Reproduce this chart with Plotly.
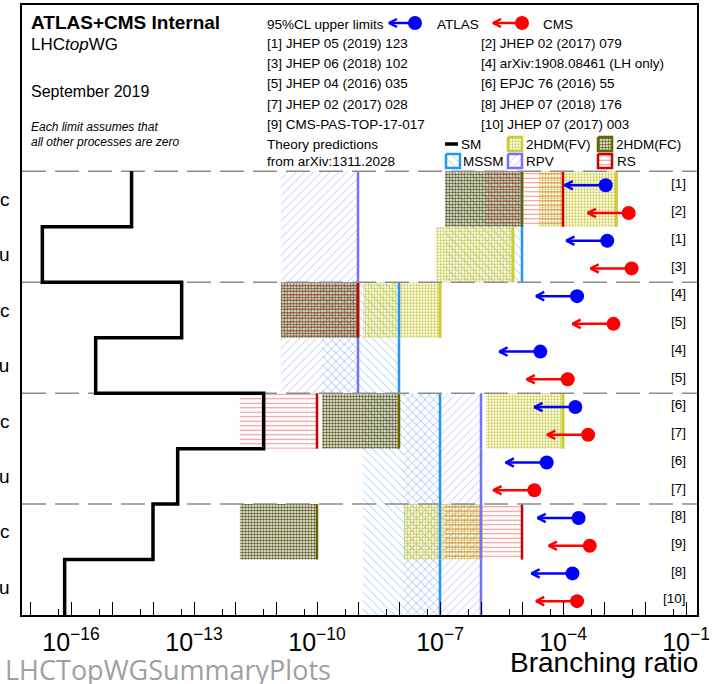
import plotly.graph_objects as go

# ---------------------------------------------------------------- data
# rows from bottom to top (each process occupies one unit on the y axis)
processes = ["t→Zu", "t→Zc", "t→gu", "t→gc", "t→γu", "t→γc", "t→Hu", "t→Hc"]

# theory predictions (arXiv:1311.2028); None = no prediction
sm_pred = [7e-17, 1e-14, 4e-14, 5e-12, 4e-16, 5e-14, 2e-17, 3e-15]
fv_pred = [None, 1e-6, None, 1e-4, None, 1e-7, 6e-6, 2e-3]
fc_pred = [None, 1e-10, None, 1e-8, None, 1e-9, None, 1e-5]
mssm_pred = [1e-7, 1e-7, 1e-7, 1e-7, 1e-8, 1e-8, 1e-5, 1e-5]
rpv_pred = [1e-6, 1e-6, 1e-6, 1e-6, 1e-9, 1e-9, 1e-9, 1e-9]
rs_pred = [None, 1e-5, None, 1e-10, None, 1e-9, None, 1e-4]

# 95% CL observed upper limits
atlas_limits = [1.7e-4, 2.4e-4, 4.0e-5, 2.0e-4, 2.8e-5, 2.2e-4, 1.2e-3, 1.1e-3]
atlas_refs = ["[8]", "[8]", "[6]", "[6]", "[4]", "[4]", "[1]", "[1]"]
cms_limits = [2.2e-4, 4.5e-4, 2.0e-5, 4.1e-4, 1.3e-4, 1.7e-3, 4.7e-3, 4.0e-3]
cms_refs = ["[10]", "[9]", "[7]", "[7]", "[5]", "[5]", "[3]", "[2]"]

references = [
    "[1] JHEP 05 (2019) 123", "[2] JHEP 02 (2017) 079",
    "[3] JHEP 06 (2018) 102", "[4] arXiv:1908.08461 (LH only)",
    "[5] JHEP 04 (2016) 035", "[6] EPJC 76 (2016) 55",
    "[7] JHEP 02 (2017) 028", "[8] JHEP 07 (2018) 176",
    "[9] CMS-PAS-TOP-17-017", "[10] JHEP 07 (2017) 003",
]

decades = list(range(-17, 0))
labelled_decades = [-16, -13, -10, -7, -4, -1]

# ---------------------------------------------------------------- layout constants
W, H = 716, 684
L, R, T, B = 22, 697, 5, 615          # frame in pixels
X_LOG_RANGE = [-17.195, -0.732]
Y_RANGE = [0, 11]
BOX_DECADES = 1.88                    # width of a theory band (log10 units)
ARROW_DECADES = 1.0                   # limit arrows span one decade
FONT = "Liberation Sans"

ATLAS_COL = "#0000ff"
CMS_COL = "#ff0000"

styles = {
    "2HDM(FV)": dict(shape=".", size=3, solidity=0.45, fg="rgba(200,200,50,0.9)",
                     edge="#cccc33", ew=3),
    "2HDM(FC)": dict(shape=".", size=3, solidity=0.55, fg="rgba(80,80,15,0.9)",
                     edge="#666600", ew=2.5),
    "MSSM": dict(shape="\\", size=6, solidity=0.13, fg="rgba(80,170,255,0.75)",
                 edge="#2196f3", ew=2.5),
    "RPV": dict(shape="/", size=6, solidity=0.13, fg="rgba(130,130,255,0.6)",
                edge="#7272ff", ew=2.5),
    "RS": dict(shape="-", size=4.5, solidity=0.25, fg="rgba(225,60,60,0.55)",
               edge="#cc0000", ew=2.5),
}
model_values = {
    "2HDM(FV)": fv_pred, "2HDM(FC)": fc_pred, "MSSM": mssm_pred,
    "RPV": rpv_pred, "RS": rs_pred,
}

fig = go.Figure()


def pattern(st):
    return dict(shape=st["shape"], size=st["size"], solidity=st["solidity"],
                fgcolor=st["fg"], bgcolor="rgba(0,0,0,0)", fillmode="replace")


# ---------------------------------------------------------------- theory bands
for name in ["MSSM", "RPV", "2HDM(FC)", "2HDM(FV)", "RS"]:
    st = styles[name]
    for i, v in enumerate(model_values[name]):
        if v is None:
            continue
        lo = v / 10 ** BOX_DECADES
        fig.add_trace(go.Scatter(
            x=[lo, v, v, lo, lo], y=[i, i, i + 1, i + 1, i],
            mode="lines", line=dict(width=0), fill="toself",
            fillcolor="rgba(0,0,0,0)", fillpattern=pattern(st),
            hoverinfo="skip", showlegend=False))

# upper edge of each band
for name in ["2HDM(FV)", "MSSM", "2HDM(FC)", "RPV", "RS"]:
    st = styles[name]
    for i, v in enumerate(model_values[name]):
        if v is None:
            continue
        fig.add_trace(go.Scatter(
            x=[v, v], y=[i, i + 1], mode="lines",
            line=dict(color=st["edge"], width=st["ew"]),
            hoverinfo="skip", showlegend=False))

# separators between the decay modes
for yy in [2, 4, 6, 8]:
    fig.add_trace(go.Scatter(
        x=[10 ** X_LOG_RANGE[0], 10 ** X_LOG_RANGE[1]], y=[yy, yy], mode="lines",
        line=dict(color="#8c8c8c", width=1.5, dash="24px,9px"),
        hoverinfo="skip", showlegend=False))

# SM prediction as a step line
sm_x, sm_y = [], []
for i in range(len(processes) - 1, -1, -1):
    sm_x += [sm_pred[i], sm_pred[i]]
    sm_y += [i + 1, i]
fig.add_trace(go.Scatter(x=sm_x, y=sm_y, mode="lines",
                         line=dict(color="black", width=3.5),
                         hoverinfo="skip", showlegend=False))


# ---------------------------------------------------------------- limits
def add_limit(v, yc, color):
    tip = v / 10 ** ARROW_DECADES
    fig.add_trace(go.Scatter(x=[tip, v], y=[yc, yc], mode="lines",
                             line=dict(color=color, width=2.5),
                             hoverinfo="skip", showlegend=False))
    back = tip * 10 ** 0.2
    fig.add_trace(go.Scatter(x=[back, tip, back], y=[yc + 0.075, yc, yc - 0.075],
                             mode="lines", line=dict(color=color, width=2.5),
                             hoverinfo="skip", showlegend=False))
    fig.add_trace(go.Scatter(x=[v], y=[yc], mode="markers",
                             marker=dict(color=color, size=14, line=dict(width=0)),
                             hoverinfo="skip", showlegend=False))


annotations = []
for i in range(len(processes)):
    add_limit(atlas_limits[i], i + 0.75, ATLAS_COL)
    add_limit(cms_limits[i], i + 0.25, CMS_COL)
    for ref, yc in [(atlas_refs[i], i + 0.75), (cms_refs[i], i + 0.25)]:
        annotations.append(dict(
            x=688, y=yc + 0.04, xref="x2", yref="y", text=ref, showarrow=False,
            xanchor="right", yanchor="middle",
            font=dict(family=FONT, size=13.5, color="black")))


# ---------------------------------------------------------------- header text (pixel coords)
def txt(x, y, s, size, anchor="left", color="black", family=FONT):
    annotations.append(dict(x=x, y=y, xref="x2", yref="y2", text=s, showarrow=False,
                            xanchor=anchor, yanchor="middle",
                            font=dict(family=family, size=size, color=color)))


def paper_txt(x, y, s, size, anchor="left", color="black", family=FONT):
    # positions below the frame are given in paper units
    annotations.append(dict(x=(x - L) / (R - L), y=(B - y) / (B - T),
                            xref="paper", yref="paper", text=s, showarrow=False,
                            xanchor=anchor, yanchor="middle",
                            font=dict(family=family, size=size, color=color)))


txt(29, 22, "<b>ATLAS+CMS Internal</b>", 19)
txt(29, 44, "LHC<i>top</i>WG", 17)
txt(29, 91, "September 2019", 16)
txt(29, 127, "<i>Each limit assumes that</i>", 12)
txt(29, 142, "<i>all other processes are zero</i>", 12)

rows_y = [24, 43, 63, 83, 104, 124, 144, 161]
txt(265, rows_y[0], "95%CL upper limits", 13.5)
txt(435, rows_y[0], "ATLAS", 13.5)
txt(541, rows_y[0], "CMS", 13.5)
for k, ref in enumerate(references):
    txt(265 if k % 2 == 0 else 479, rows_y[1 + k // 2], ref, 13.5)
txt(265, rows_y[6], "Theory predictions", 13.5)
txt(265, rows_y[7], "from arXiv:1311.2028", 13.5)

txt(459, rows_y[6], "SM", 13.5)
txt(524, rows_y[6], "2HDM(FV)", 13.5)
txt(614, rows_y[6], "2HDM(FC)", 13.5)
txt(461, rows_y[7], "MSSM", 13.5)
txt(524, rows_y[7], "RPV", 13.5)
txt(615, rows_y[7], "RS", 13.5)

paper_txt(700, 662, "Branching ratio", 28, anchor="right")
paper_txt(3, 669, "LHCTopWGSummaryPlots", 27, color="#a0a0a0", family="Open Sans")

# legend symbols for the limits
for tip, dot, color in [(389, 415, ATLAS_COL), (493, 522, CMS_COL)]:
    yc = 23
    fig.add_trace(go.Scatter(x=[tip, dot], y=[yc, yc], xaxis="x2", yaxis="y2",
                             mode="lines", line=dict(color=color, width=2.5),
                             hoverinfo="skip", showlegend=False))
    fig.add_trace(go.Scatter(x=[tip + 8, tip, tip + 8], y=[yc - 4, yc, yc + 4],
                             xaxis="x2", yaxis="y2", mode="lines",
                             line=dict(color=color, width=2.5),
                             hoverinfo="skip", showlegend=False))
    fig.add_trace(go.Scatter(x=[dot], y=[yc], xaxis="x2", yaxis="y2", mode="markers",
                             marker=dict(color=color, size=14),
                             hoverinfo="skip", showlegend=False))

# legend symbols for the theory models
fig.add_trace(go.Scatter(x=[445, 458], y=[144, 144], xaxis="x2", yaxis="y2",
                         mode="lines", line=dict(color="black", width=3.5),
                         hoverinfo="skip", showlegend=False))
legend_boxes = [("2HDM(FV)", 508, 137), ("2HDM(FC)", 598, 137),
                ("MSSM", 446, 154), ("RPV", 508, 154), ("RS", 598, 154)]
for name, x0, y0 in legend_boxes:
    st = styles[name]
    fig.add_trace(go.Scatter(
        x=[x0, x0 + 14, x0 + 14, x0, x0], y=[y0, y0, y0 + 14, y0 + 14, y0],
        xaxis="x2", yaxis="y2", mode="lines",
        line=dict(color=st["edge"], width=2.5), fill="toself",
        fillcolor="rgba(0,0,0,0)", fillpattern=pattern(st),
        hoverinfo="skip", showlegend=False))

# ---------------------------------------------------------------- axes
fig.update_layout(
    width=W, height=H,
    margin=dict(l=L, r=W - R, t=T, b=H - B, pad=0),
    paper_bgcolor="white", plot_bgcolor="white",
    template=None,
    showlegend=False,
    annotations=annotations,
    xaxis=dict(
        type="log", range=X_LOG_RANGE, showgrid=False, zeroline=False,
        showline=True, mirror=True, linecolor="black", linewidth=1.5,
        tickmode="array", tickvals=[10.0 ** k for k in decades],
        ticktext=[("10<sup>−%d</sup>" % -k) if k in labelled_decades else ""
                  for k in decades],
        ticks="inside", ticklen=13, tickwidth=1.2, tickcolor="black",
        minor=dict(tickmode="array", tickvals=[5 * 10.0 ** k for k in range(-18, -1)],
                   ticks="inside", ticklen=6, tickwidth=1.2, tickcolor="black"),
        tickfont=dict(family=FONT, size=25, color="black"),
        ticklabelstandoff=4, automargin=False, fixedrange=True,
    ),
    yaxis=dict(
        range=Y_RANGE, showgrid=False, zeroline=False,
        showline=True, mirror=True, linecolor="black", linewidth=1.5,
        tickmode="array", tickvals=[i + 0.5 for i in range(len(processes))],
        ticktext=processes, ticks="",
        tickfont=dict(family=FONT, size=19, color="black"),
        ticklabelstandoff=7, automargin=False, fixedrange=True,
    ),
    xaxis2=dict(overlaying="x", range=[L, R], visible=False, anchor="y2",
                fixedrange=True),
    yaxis2=dict(overlaying="y", range=[B, T], visible=False, anchor="x2",
                fixedrange=True),
)

fig.write_html("out.html")
